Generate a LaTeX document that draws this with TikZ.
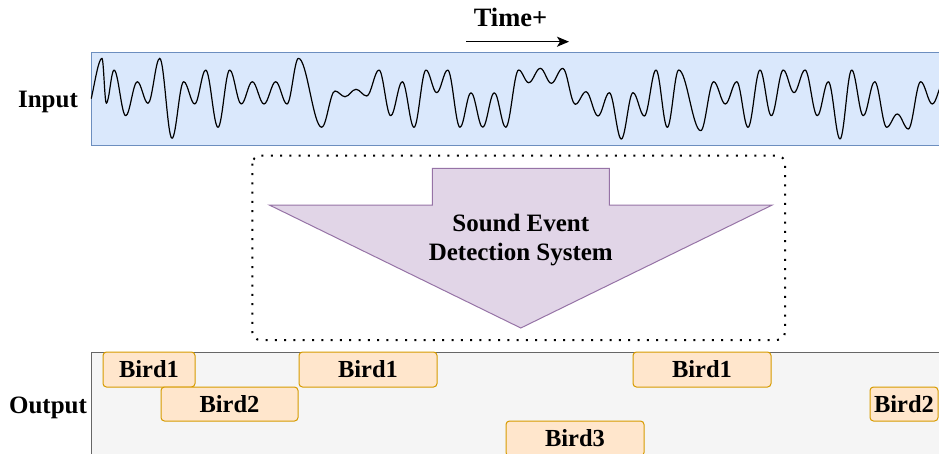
\documentclass[tikz,border=0pt]{standalone}
\usepackage{fontspec}
\setmainfont{Liberation Serif}
\usetikzlibrary{arrows.meta}

\definecolor{inputfill}{HTML}{DAE8FC}
\definecolor{inputline}{HTML}{6C8EBF}
\definecolor{outfill}{HTML}{F5F5F5}
\definecolor{outline}{HTML}{666666}
\definecolor{birdfill}{HTML}{FFE6CC}
\definecolor{birdline}{HTML}{D79B00}
\definecolor{sedfill}{HTML}{E1D5E7}
\definecolor{sedline}{HTML}{9673A6}

\tikzset{
  lbl/.style={font=\fontsize{25}{30}\selectfont\bfseries, inner sep=0pt, anchor=base},
  wave/.style={line width=1.2pt, line join=round, line cap=round},
  birdbox/.style={draw=birdline, fill=birdfill, line width=1pt, rounded corners=3.5pt,
    inner sep=0pt, font=\fontsize{24.5}{28}\selectfont\bfseries, minimum height=#1},
  birdbox/.default=35pt,
}

\begin{document}
\begin{tikzpicture}[x=1pt,y=-1pt]
\useasboundingbox (0,0) rectangle (939,453);

% time axis
\node[lbl, font=\fontsize{26.5}{30}\selectfont\bfseries] (time) at (510.5,26.7) {Time+};
\coordinate (tstart) at (466,41.7);
\coordinate (tend) at (569,41.7);
\draw[line width=1.4pt, -{Stealth[length=12pt,width=10pt,inset=3pt]}] (tstart) -- (tend);

% input signal
\draw[draw=inputline, fill=inputfill, line width=1pt] (91,52.3) rectangle (950,145);
\node[lbl] (input) at (48,107.3) {Input};
\draw[wave] (91.3,98.3) .. controls (95,82) and (98.5,58.3) .. (102,58.3)
  \foreach \x/\y [remember=\x as \px (initially 102), remember=\y as \py (initially 58.3)] in {
    106.3/103.3, 114/70, 125.7/115.7, 137.3/81.7, 148/103.3, 159.7/58.3, 172/138.3,
    183.7/81.7, 194.7/104, 205.7/70, 218/127.3, 229.7/70, 241.3/104, 252.3/81.7,
    264/104, 275.7/81.7, 287/104, 298.5/58.3, 321.7/127.3, 335/91, 345/96.7,
    356/89.3, 366.7/96, 379/70, 390.7/115.7, 402.3/81.7, 414/127.3, 426/70,
    436.7/92.7, 447.7/70, 460/127.3, 471/92.7, 482.7/127.3, 494.3/92.7, 505.7/127.3,
    518.7/70, 528.7/82.7, 540.3/68.3, 551.3/83.3, 562.7/68.3, 575.3/104.3, 586/91.7,
    598/116, 609.3/92.7, 621.3/139, 633/92.7, 644.3/116, 656/70, 667.3/127.3,
    678.7/70, 700.7/130.7, 713.7/81.7, 725.3/104, 736.7/81.7, 748/127.3, 760/70,
    771.3/115.7, 783.3/70, 794/92.7, 805/70, 817.3/115.7, 828.3/81.7, 840/139,
    851.7/70, 863.3/115.7, 874.7/81.7, 886.7/127.3, 897.3/114, 908.3/129,
    920.7/81.7, 932.3/104, 944/81.7}
  { .. controls ({\px+0.3634*(\x-\px)},\py) and ({\x-0.3634*(\x-\px)},\y) .. (\x,\y) };

% detection system
\draw[line width=2pt, dash pattern=on 2pt off 7.3pt, rounded corners=8pt]
  (252.3,155.7) rectangle (785,340);
\draw[draw=sedline, fill=sedfill, line width=1pt, line join=miter]
  (432.3,168.3) -- (609.3,168.3) -- (609.3,205) -- (772.3,205) -- (520.8,328)
  -- (269.3,205) -- (432.3,205) -- cycle;
\node[lbl] (sed1) at (520.8,231.7) {Sound Event};
\node[lbl] (sed2) at (520.8,260) {Detection System};

% output events
\fill[outfill] (91,352) rectangle (950,460);
\draw[draw=outline, line width=1pt] (950,352) -- (91,352) -- (91,460);
\node[lbl] (output) at (48,413.3) {Output};
\node[birdbox, minimum width=92pt]  (b1a) at (149,369.5) {Bird1};
\node[birdbox=34pt, minimum width=137pt] (b2a) at (229.5,404) {Bird2};
\node[birdbox, minimum width=138pt] (b1b) at (368,369.5) {Bird1};
\node[birdbox, minimum width=138pt] (b1c) at (702,369.5) {Bird1};
\node[birdbox=34pt, minimum width=68pt]  (b2b) at (904,404) {Bird2};
\node[birdbox, minimum width=138pt] (b3)  at (575,438.5) {Bird3};
\end{tikzpicture}
\end{document}
